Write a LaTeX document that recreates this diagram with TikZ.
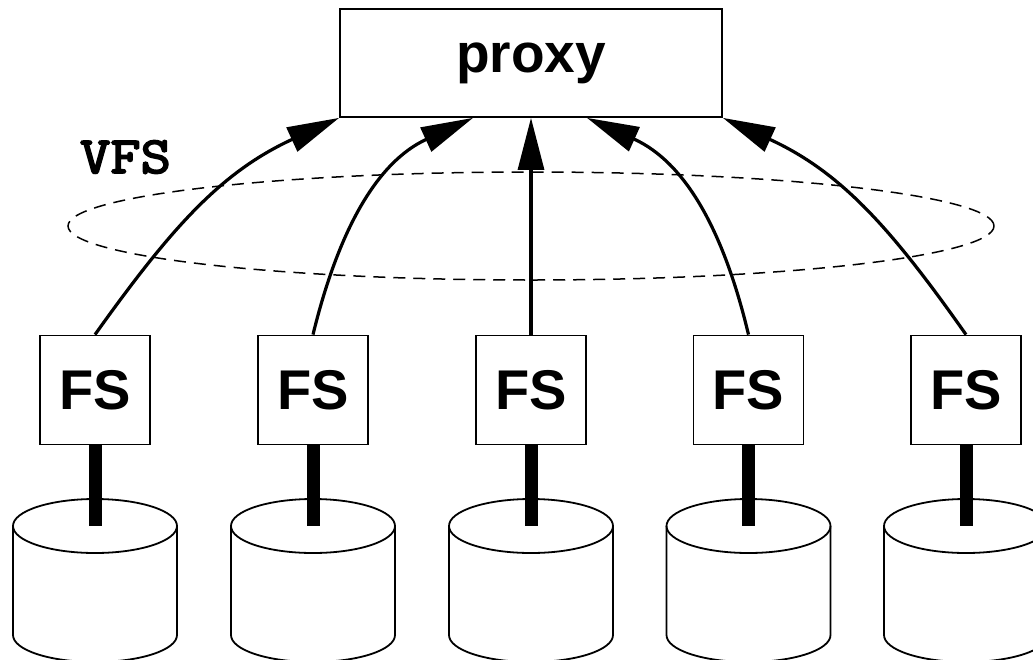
\documentclass[tikz,border=0pt]{standalone}
\usepackage{fontspec}
\setmainfont{Liberation Sans}
\newfontfamily\labelmono{Latin Modern Mono}[FakeBold=3.5, FakeStretch=1.13]
\usetikzlibrary{arrows.meta}

\tikzset{
  fsbox/.style={draw, line width=1.8pt, minimum width=110pt, minimum height=109pt,
                inner sep=0pt, font=\fontsize{56}{60}\selectfont\bfseries},
  proxybox/.style={draw, line width=1.8pt, minimum width=382pt, minimum height=108pt,
                inner sep=0pt, font=\fontsize{55}{60}\selectfont\bfseries},
  layerlabel/.style={inner sep=0pt, font=\labelmono\fontsize{52}{60}\selectfont},
  link/.style={line width=3.2pt, -{Triangle[length=52pt, width=26pt]}},
  disklink/.style={line width=13pt},
  diskline/.style={line width=1.8pt},
  vfsring/.style={line width=1.5pt, dash pattern=on 12pt off 8pt},
}

\begin{document}
\begin{tikzpicture}[x=1pt, y=-1pt]
  \useasboundingbox (0,0) rectangle (1033,659);
  \clip (0,0) rectangle (1033,659);

  % virtual file system layer
  \draw[vfsring] (531,226) ellipse [x radius=463pt, y radius=54pt];
  \node[layerlabel] (vfs) at (125.5,157) {VFS};

  % proxy on top
  \node[proxybox] (proxy) at (531,63) {proxy};

  % file servers
  \foreach \i/\x in {1/95, 2/313, 3/531, 4/748.5, 5/966} {
    \node[fsbox] (fs\i) at (\x,390) {FS};
    \coordinate (d\i) at (\x,526);
    % disk below each file server
    \draw[diskline] (\x,526) ellipse [x radius=82pt, y radius=27pt];
    \draw[diskline] (\x-82,526) -- (\x-82,635)
       arc[start angle=180, end angle=360, x radius=82pt, y radius=27pt]
       -- (\x+82,526);
    \draw[disklink] (fs\i.south) -- (d\i);
  }

  % connections from file servers to the proxy
  \draw[link] (fs1.north) .. controls (171,228) and (221,172) .. (proxy.south west);
  \draw[link] (fs2.north) .. controls (338.5,230) and (377,162) .. ([xshift=-58pt]proxy.south);
  \draw[link] (fs3.north) -- (proxy.south);
  \draw[link] (fs4.north) .. controls (723.5,230) and (685,162) .. ([xshift=56pt]proxy.south);
  \draw[link] (fs5.north) .. controls (891,228) and (841,172) .. (proxy.south east);
\end{tikzpicture}
\end{document}
